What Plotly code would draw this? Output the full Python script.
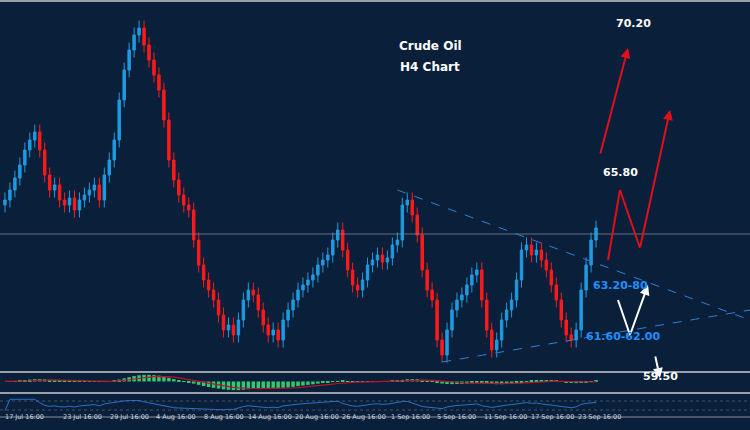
import plotly.graph_objects as go
import numpy as np

closes = [66.0,66.2,66.44,66.7,67.0,67.2,67.36,67.0,66.5,66.2,66.3,66.0,65.9,66.04,65.8,66.0,66.1,66.2,66.3,66.0,
66.5,66.8,67.2,68.0,68.6,69.0,69.3,69.44,69.1,68.8,68.5,68.2,67.6,66.8,66.4,66.1,65.9,65.8,65.2,64.7,
64.4,64.2,64.0,63.7,63.4,63.5,63.3,63.6,64.0,64.2,64.1,63.8,63.5,63.3,63.4,63.2,63.6,63.8,64.0,64.2,
64.3,64.4,64.5,64.7,64.8,64.9,65.2,65.4,65.0,64.6,64.3,64.2,64.4,64.7,64.8,64.9,64.76,64.84,65.1,65.2,
65.9,66.0,65.7,65.3,64.6,64.2,64.0,63.2,62.9,63.4,63.8,64.0,64.1,64.3,64.5,64.6,64.0,63.4,63.0,63.2,
63.6,63.8,64.0,64.4,65.0,65.1,64.9,65.0,64.8,64.6,64.3,64.0,63.6,63.3,63.2,63.4,64.2,64.7,65.2,65.44]
tick_labels = ["17 Jul 16:00","23 Jul 16:00","29 Jul 16:00","4 Aug 16:00","8 Aug 16:00","14 Aug 16:00","20 Aug 16:00",
               "26 Aug 16:00","1 Sep 16:00","5 Sep 16:00","11 Sep 16:00","17 Sep 16:00","23 Sep 16:00"]
tick_pos = [4,15.6,25,34.4,44,53.4,62.8,72.2,81.6,91,100.8,110.2,119.6]
level_labels = ["70.20","65.80","63.20-80","61.60-62.00","59.50"]

W,H = 750,430
c = np.array(closes); x = np.arange(len(c))
o = np.r_[c[0]-0.1, c[:-1]]
hi = np.maximum(o,c)+0.15; lo = np.minimum(o,c)-0.15

def ema(a,n):
    k=2/(n+1); out=[a[0]]
    for v in a[1:]: out.append(out[-1]+k*(v-out[-1]))
    return np.array(out)
macd = ema(c,12)-ema(c,26); sig = ema(macd,9)
d = np.diff(c,prepend=c[0]); up=ema(np.clip(d,0,None),14); dn=ema(np.clip(-d,0,None),14)+1e-9
rsi = 100-100/(1+up/dn)

bg="#0a1f3a"
fig=go.Figure()
fig.add_trace(go.Candlestick(x=x,open=o,high=hi,low=lo,close=c,
    increasing=dict(line=dict(color="#1e9be0",width=1),fillcolor="#1e9be0"),
    decreasing=dict(line=dict(color="#ff1a1a",width=1),fillcolor="#ff1a1a"),whiskerwidth=0))
fig.add_trace(go.Bar(x=x,y=macd,marker_color="#2ecc71",marker_line_width=0,xaxis="x2",yaxis="y2"))
fig.add_trace(go.Scatter(x=x,y=sig,mode="lines",line=dict(color="#c0102a",width=1.2),xaxis="x2",yaxis="y2"))
fig.add_trace(go.Scatter(x=x,y=rsi,mode="lines",line=dict(color="#2a6fd0",width=1),xaxis="x3",yaxis="y3"))

def P(px,py): return px/5, 70-py*0.02
xr=[-1,150]
fig.update_layout(width=W,height=H,margin=dict(l=0,r=0,t=0,b=0,autoexpand=False),paper_bgcolor=bg,plot_bgcolor=bg,showlegend=False,
    xaxis=dict(range=xr,visible=False,rangeslider=dict(visible=False)),
    yaxis=dict(domain=[1-370/H,1],range=[62.6,70],visible=False),
    xaxis2=dict(range=xr,visible=False,anchor="y2"),
    yaxis2=dict(domain=[1-391/H,1-374/H],visible=False),
    xaxis3=dict(range=xr,anchor="y3",visible=False),
    yaxis3=dict(domain=[1-413/H,1-397/H],range=[-20,120],visible=False),
    bargap=0.3)
shapes=[]
def hline(py,color="#9aa0a8",w=2,dash="solid"):
    shapes.append(dict(type="line",xref="paper",yref="paper",layer="above",x0=0,x1=1,y0=1-py/H,y1=1-py/H,line=dict(color=color,width=w,dash=dash)))
hline(1); hline(372); hline(393); hline(417,"#8a9099",1)
hline(234,"#7a8594",0.8)
hline(401,"#5a6a80",0.7,"dot"); hline(410,"#5a6a80",0.7,"dot")
for (a,b) in [((395,190),(750,320)),((440,362),(750,310))]:
    x0,y0=P(*a); x1,y1=P(*b)
    shapes.append(dict(type="line",x0=x0,y0=y0,x1=x1,y1=y1,line=dict(color="#2f7fd8",width=1,dash="dash")))
def seg(a,b,col):
    shapes.append(dict(type="line",xref="paper",yref="paper",x0=a[0]/W,y0=1-a[1]/H,x1=b[0]/W,y1=1-b[1]/H,line=dict(color=col,width=2)))
seg((608,260),(620,190),"#e0101a"); seg((620,190),(640,248),"#e0101a")
seg((618,300),(630,335),"#ffffff")
fig.update_layout(shapes=shapes)
ann=[]
def arrow(a,b,col):
    ann.append(dict(xref="paper",yref="paper",axref="pixel",ayref="pixel",x=b[0]/W,y=1-b[1]/H,ax=a[0]-b[0],ay=a[1]-b[1],
        showarrow=True,arrowhead=2,arrowsize=1,arrowwidth=2,arrowcolor=col,text=""))
arrow((640,248),(670,110),"#e0101a"); arrow((600,155),(628,48),"#e0101a")
arrow((630,335),(648,285),"#ffffff"); arrow((655,355),(660,378),"#ffffff")
def txt(s,px,py,col="#ffffff",size=11,xa="left"):
    ann.append(dict(xref="paper",yref="paper",x=px/W,y=1-py/H,xanchor=xa,text="<b>"+s+"</b>",showarrow=False,font=dict(color=col,size=size,family="DejaVu Sans")))
txt("Crude Oil",430,37,size=12,xa="center"); txt("H4 Chart",430,58,size=12,xa="center")
txt(level_labels[0],614,15); txt(level_labels[1],601,172); txt(level_labels[2],591,285,"#1e90ff")
txt(level_labels[3],584,345,"#1e90ff"); txt(level_labels[4],641,385)
for tp,tl in zip(tick_pos,tick_labels):
    ann.append(dict(xref="x3",yref="paper",x=tp,y=1-423/H,text=tl,showarrow=False,font=dict(color="#cfd8e3",size=6.5,family="DejaVu Sans")))
fig.update_layout(annotations=ann)
fig.write_html("out.html",config={"displayModeBar":False})
with open("out.html") as f: s=f.read()
s=s.replace("<head>","<head><style>html,body{margin:0;padding:0;overflow:hidden}</style>",1)
with open("out.html","w") as f: f.write(s)
